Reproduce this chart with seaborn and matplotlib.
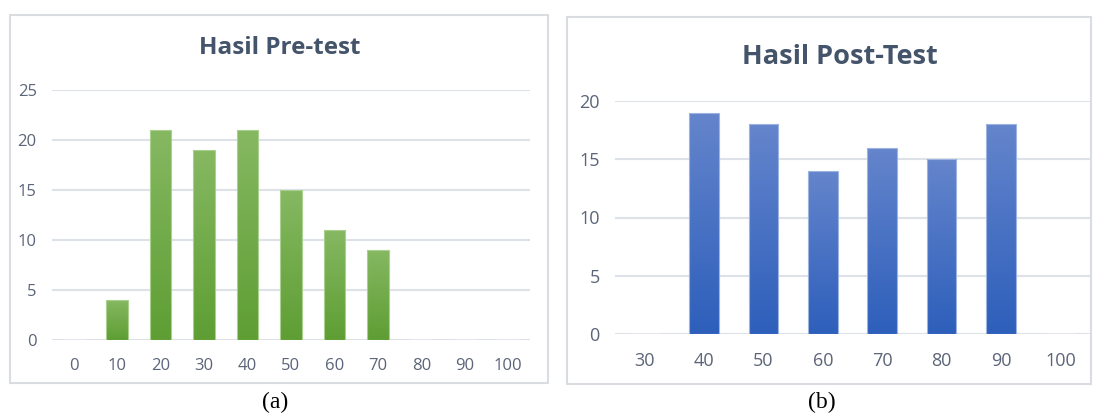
import numpy as np
import pandas as pd
import matplotlib
matplotlib.use("Agg")
import matplotlib.pyplot as plt
import seaborn as sns
from matplotlib.patches import Rectangle
from matplotlib.colors import LinearSegmentedColormap

# data
pre_scores = ["0", "10", "20", "30", "40", "50", "60", "70", "80", "90", "100"]
pre_counts = [0, 4, 21, 19, 21, 15, 11, 9, 0, 0, 0]
post_scores = ["30", "40", "50", "60", "70", "80", "90", "100"]
post_counts = [0, 19, 18, 14, 16, 15, 18, 0]

TITLE_C = "#44546a"
TICK_C = "#5b6478"
GRID_C = "#dde1e8"
BORDER_C = "#d9dce0"

sns.set_theme(style="white")
plt.rcParams["font.family"] = ["Open Sans", "DejaVu Sans"]

fig = plt.figure(figsize=(10.97, 4.16), dpi=100)


def gradient_bars(ax, top_col, bot_col, edge_col):
    cmap = LinearSegmentedColormap.from_list("g", [bot_col, top_col])
    grad = np.linspace(0, 1, 256).reshape(-1, 1)
    for p in ax.patches:
        h = p.get_height()
        if h <= 0:
            continue
        x, w = p.get_x(), p.get_width()
        im = ax.imshow(grad, extent=[x, x + w, 0, h], origin="lower",
                       cmap=cmap, aspect="auto", zorder=3)
        im.set_clip_path(p)
        p.set_facecolor("none")
        p.set_edgecolor(edge_col)
        p.set_linewidth(0.8)
        p.set_zorder(4)


def style_axis(ax, ymax, step, fs):
    ax.set_ylim(0, ymax)
    ax.set_yticks(np.arange(0, ymax + 1, step))
    ax.grid(axis="y", color=GRID_C, linewidth=1.5, zorder=0)
    ax.set_axisbelow(True)
    for sp in ax.spines.values():
        sp.set_visible(False)
    ax.tick_params(axis="both", length=0, labelcolor=TICK_C, labelsize=fs)
    ax.tick_params(axis="y", pad=11)
    ax.tick_params(axis="x", pad=13)
    ax.set_xlabel("")
    ax.set_ylabel("")


# panel borders
fig.patches.append(Rectangle((10 / 1097, 1 - 383 / 416), 538 / 1097, 368 / 416,
                             transform=fig.transFigure, fill=False,
                             edgecolor=BORDER_C, linewidth=1.5))
fig.patches.append(Rectangle((567 / 1097, 1 - 384 / 416), 524 / 1097, 367 / 416,
                             transform=fig.transFigure, fill=False,
                             edgecolor=BORDER_C, linewidth=1.5))

# (a) pre-test
ax1 = fig.add_axes([52 / 1097, 1 - 340 / 416, 478 / 1097, 250 / 416])
df_pre = pd.DataFrame({"score": pre_scores, "count": pre_counts})
sns.barplot(data=df_pre, x="score", y="count", ax=ax1, width=0.5,
            color="#70ad47", saturation=1)
gradient_bars(ax1, "#86b862", "#5e9e33", "#a9d08e")
ax1.set_xlim(-0.5, len(pre_scores) - 0.5)
style_axis(ax1, 25, 5, 12)
fig.text(280 / 1097, 1 - 48 / 416, "Hasil Pre-test", ha="center", va="center",
         fontsize=17.5, fontweight="bold", color=TITLE_C)

# (b) post-test
ax2 = fig.add_axes([615 / 1097, 1 - 334 / 416, 475 / 1097, 233 / 416])
df_post = pd.DataFrame({"score": post_scores, "count": post_counts})
sns.barplot(data=df_post, x="score", y="count", ax=ax2, width=0.5,
            color="#4472c4", saturation=1)
gradient_bars(ax2, "#6585cc", "#2d5fbb", "#9db3e0")
ax2.set_xlim(-0.5, len(post_scores) - 0.5)
style_axis(ax2, 20, 5, 13)
fig.text(840 / 1097, 1 - 57 / 416, "Hasil Post-Test", ha="center", va="center",
         fontsize=19.5, fontweight="bold", color=TITLE_C)

# captions
fig.text(275 / 1097, 1 - 402 / 416, "(a)", ha="center", va="center",
         fontsize=17, color="black", family=["Liberation Serif"])
fig.text(822 / 1097, 1 - 402 / 416, "(b)", ha="center", va="center",
         fontsize=17, color="black", family=["Liberation Serif"])

fig.savefig("out.png", dpi=100, facecolor="white")
